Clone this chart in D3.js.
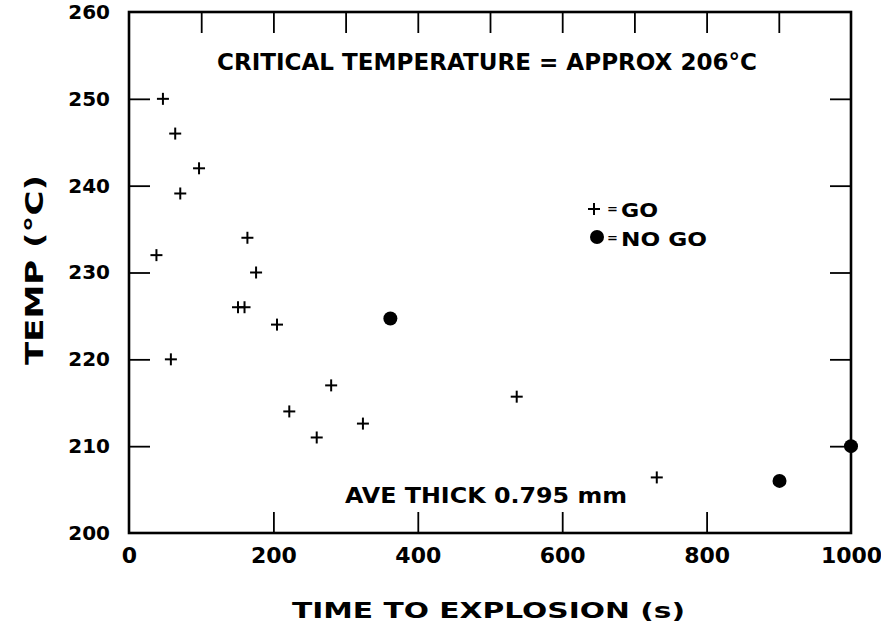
<!DOCTYPE html>
<html><head><meta charset="utf-8">
<script src="https://cdn.jsdelivr.net/npm/d3@7"></script>
<style>
body{margin:0;background:#fff;}
text{font-family:"DejaVu Sans",sans-serif;font-weight:bold;fill:#000;}
</style></head>
<body>
<script>
// Data
const goTime = [47, 64, 97, 71, 164, 38, 176, 151, 160, 205, 58, 222, 280, 260, 324, 537, 731];
const goTemp = [250, 246, 242, 239.1, 234, 232, 230, 226, 226, 224, 220, 214, 217, 211, 212.6, 215.7, 206.4];
const noGoTime = [362, 901, 1000];
const noGoTemp = [224.7, 206, 210];
const xTickLabels = [0, 200, 400, 600, 800, 1000];
const yTickLabels = [200, 210, 220, 230, 240, 250, 260];
const topTicks = [100, 200, 300, 400, 500, 600, 700, 800, 900];
const bottomTicks = [200, 400, 600, 800];
const sideTicks = [210, 220, 230, 240, 250];

const W = 881, H = 638;
const x = d3.scaleLinear().domain([0, 1000]).range([129, 851]);
const y = d3.scaleLinear().domain([200, 260]).range([533, 12]);

const svg = d3.select("body").append("svg").attr("width", W).attr("height", H);

// inward ticks
const tk = 21;
svg.append("g").attr("transform", `translate(0,${y(260)})`)
  .call(d3.axisTop(x).tickValues(topTicks).tickSize(-tk).tickFormat(""));
svg.append("g").attr("transform", `translate(0,${y(200)})`)
  .call(d3.axisBottom(x).tickValues(bottomTicks).tickSize(-tk).tickFormat(""));
svg.append("g").attr("transform", `translate(${x(0)},0)`)
  .call(d3.axisLeft(y).tickValues(sideTicks).tickSize(-tk).tickFormat(""));
svg.append("g").attr("transform", `translate(${x(1000)},0)`)
  .call(d3.axisRight(y).tickValues(sideTicks).tickSize(-tk).tickFormat(""));
svg.selectAll(".domain").remove();
svg.selectAll(".tick line").attr("stroke", "#000").attr("stroke-width", 1.8);

// frame
svg.append("rect").attr("x", x(0)).attr("y", y(260))
  .attr("width", x(1000) - x(0)).attr("height", y(200) - y(260))
  .attr("fill", "none").attr("stroke", "#000").attr("stroke-width", 2.6);

// tick labels
const xl = svg.append("g").attr("transform", `translate(0,${y(200)})`)
  .call(d3.axisBottom(x).tickValues(xTickLabels).tickSize(0).tickPadding(14).tickFormat(d3.format("d")));
xl.selectAll("text").attr("font-size", 22).attr("font-family", "DejaVu Sans").attr("font-weight", "bold").attr("fill", "#000");
const yl = svg.append("g").attr("transform", `translate(${x(0)},0)`)
  .call(d3.axisLeft(y).tickValues(yTickLabels).tickSize(0).tickPadding(19).tickFormat(d3.format("d")));
yl.selectAll("text").attr("font-size", 20).attr("font-family", "DejaVu Sans").attr("font-weight", "bold").attr("fill", "#000");
svg.selectAll(".domain").remove();

// GO crosses
const arm = 6;
const go = svg.append("g").attr("stroke", "#000").attr("stroke-width", 2);
goTime.forEach((t, i) => {
  const cx = x(t), cy = y(goTemp[i]);
  go.append("line").attr("x1", cx - arm).attr("x2", cx + arm).attr("y1", cy).attr("y2", cy);
  go.append("line").attr("x1", cx).attr("x2", cx).attr("y1", cy - arm).attr("y2", cy + arm);
});
// NO GO dots
svg.append("g").selectAll("circle").data(noGoTime).join("circle")
  .attr("cx", d => x(d)).attr("cy", (d, i) => y(noGoTemp[i])).attr("r", 7).attr("fill", "#000");

// annotations
svg.append("text").attr("x", 217).attr("y", 70).attr("font-size", 23)
  .attr("textLength", 540).attr("lengthAdjust", "spacingAndGlyphs")
  .text("CRITICAL TEMPERATURE = APPROX  206°C");
svg.append("text").attr("x", 345).attr("y", 503).attr("font-size", 22)
  .attr("textLength", 282).attr("lengthAdjust", "spacingAndGlyphs")
  .text("AVE THICK  0.795 mm");

// legend
const lg = svg.append("g");
lg.append("line").attr("x1", 588).attr("x2", 600).attr("y1", 209).attr("y2", 209).attr("stroke", "#000").attr("stroke-width", 2);
lg.append("line").attr("x1", 594).attr("x2", 594).attr("y1", 203).attr("y2", 215).attr("stroke", "#000").attr("stroke-width", 2);
lg.append("text").attr("x", 607).attr("y", 213).attr("font-size", 13).text("=");
lg.append("text").attr("x", 621).attr("y", 217).attr("font-size", 20)
  .attr("textLength", 37).attr("lengthAdjust", "spacingAndGlyphs").text("GO");
lg.append("circle").attr("cx", 597).attr("cy", 237).attr("r", 7).attr("fill", "#000");
lg.append("text").attr("x", 607).attr("y", 242).attr("font-size", 13).text("=");
lg.append("text").attr("x", 621).attr("y", 246).attr("font-size", 20)
  .attr("textLength", 86).attr("lengthAdjust", "spacingAndGlyphs").text("NO GO");

// axis titles
svg.append("text").attr("x", 292).attr("y", 618).attr("font-size", 22)
  .attr("textLength", 393).attr("lengthAdjust", "spacingAndGlyphs")
  .text("TIME TO EXPLOSION (s)");
svg.append("text").attr("transform", "translate(43,365) rotate(-90)")
  .attr("font-size", 25).attr("textLength", 190).attr("lengthAdjust", "spacingAndGlyphs")
  .text("TEMP (°C)");
</script>
</body></html>
